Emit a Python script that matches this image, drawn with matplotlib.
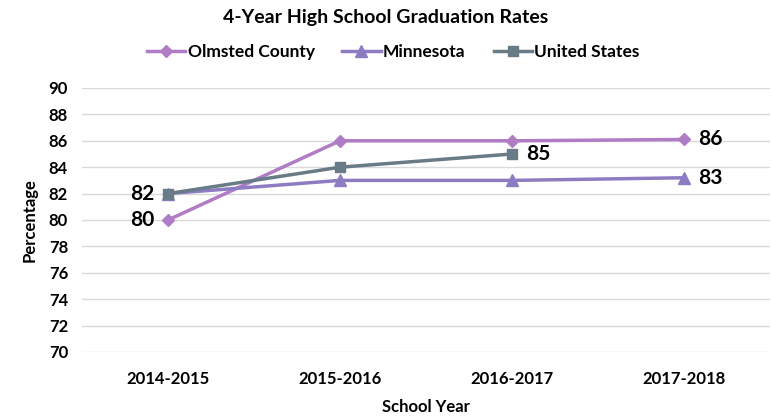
import matplotlib
matplotlib.use("Agg")
import matplotlib.pyplot as plt
from matplotlib.lines import Line2D

plt.rcParams['font.family'] = ['Lato', 'DejaVu Sans']

years = ["2014-2015", "2015-2016", "2016-2017", "2017-2018"]
olmsted = [80, 86, 86, 86.1]
minnesota = [82, 83, 83, 83.2]
us = [82, 84, 85]
yticks = list(range(70, 91, 2))

c_olm = "#B07CC6"
c_mn = "#8E7CC3"
c_us = "#687B86"

fig = plt.figure(figsize=(7.71, 4.16), dpi=100)
ax = fig.add_axes([82/771, (416-352)/416, (770-82)/771, (352-88)/416])

x = list(range(len(years)))
ax.plot(x, olmsted, color=c_olm, lw=2.5, marker="D", ms=6, label="Olmsted County", zorder=3)
ax.plot(x, minnesota, color=c_mn, lw=2.5, marker="^", ms=8, label="Minnesota", zorder=3)
ax.plot(x[:len(us)], us, color=c_us, lw=2.5, marker="s", ms=7, label="United States", zorder=4)

ax.set_xlim(-0.5, 3.5)
ax.set_ylim(70, 90)
ax.set_yticks(yticks)
ax.set_yticklabels([str(v) for v in yticks], fontsize=12, fontweight="bold")
ax.set_xticks(x)
ax.set_xticklabels(years, fontsize=12, fontweight="bold")
ax.tick_params(length=0, pad=14, axis="x")
ax.tick_params(length=0, pad=10, axis="y")
ax.grid(axis="y", color="#D9D9D9", lw=1)
for s in ax.spines.values():
    s.set_visible(False)

lab = dict(fontsize=15, fontweight="bold", va="center")
ax.text(-0.08, olmsted[0], str(round(olmsted[0])), ha="right", **lab)
ax.text(-0.08, us[0], str(round(us[0])), ha="right", **lab)
ax.text(3.08, olmsted[3], str(round(olmsted[3])), ha="left", **lab)
ax.text(3.08, minnesota[3], str(round(minnesota[3])), ha="left", **lab)
ax.text(2.08, us[2], str(round(us[2])), ha="left", **lab)

ax.set_xlabel("School Year", fontsize=12, fontweight="bold", labelpad=8)
ax.set_ylabel("Percentage", fontsize=12, fontweight="bold", labelpad=8)

fig.text(0.5, 1 - 18/416, "4-Year High School Graduation Rates", ha="center", va="center",
         fontsize=14, fontweight="bold")
handles = [
    Line2D([], [], color=c_olm, lw=2.5, marker="D", ms=6),
    Line2D([], [], color=c_mn, lw=2.5, marker="^", ms=8),
    Line2D([], [], color=c_us, lw=2.5, marker="s", ms=7),
]
fig.legend(handles, ["Olmsted County", "Minnesota", "United States"], loc="center",
           bbox_to_anchor=(0.51, 1 - 52/416), ncol=3, frameon=False,
           prop={"size": 12.5, "weight": "bold"}, handlelength=2.2, columnspacing=1.6,
           handletextpad=0.15)

fig.savefig("out.png", dpi=100)
